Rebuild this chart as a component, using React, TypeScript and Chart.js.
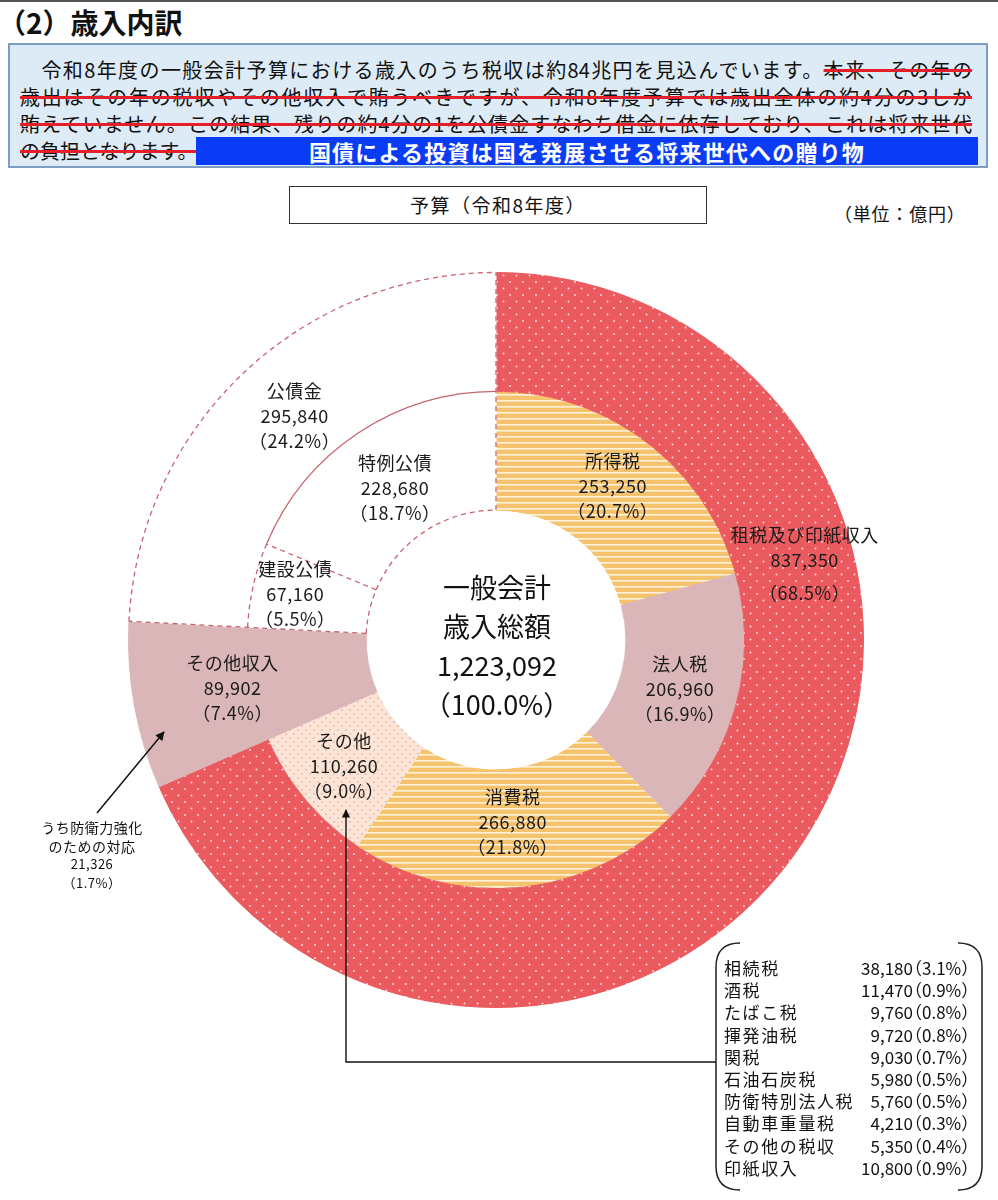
import React, { useEffect, useRef } from "react";
import { Chart, registerables } from "chart.js";

Chart.register(...registerables);

const FONT = "'Noto Sans CJK JP', 'Noto Sans', sans-serif";

// 歳入（単位：億円）
const outerLabels = ["租税及び印紙収入", "その他収入", "公債金"];
const outerValues = [837350, 89902, 295840];
const innerLabels = ["所得税", "法人税", "消費税", "その他", "その他収入", "建設公債", "特例公債"];
const innerValues = [253250, 206960, 266880, 110260, 89902, 67160, 228680];

// 「その他」の内訳
const detailNames = ["相続税", "酒税", "たばこ税", "揮発油税", "関税", "石油石炭税", "防衛特別法人税", "自動車重量税", "その他の税収", "印紙収入"];
const detailValues = [38180, 11470, 9760, 9720, 9030, 5980, 5760, 4210, 5350, 10800];

const defenseLines = ["うち防衛力強化", "のための対応"];
const defenseValue = 21326;
const centerLines = ["一般会計", "歳入総額"];

const total = outerValues.reduce((a, b) => a + b, 0);
const fmt = (v: number) => v.toLocaleString("en-US");
const pct = (v: number) => `（${(Math.round((v / total) * 1000) / 10).toFixed(1)}%）`;

// label placement inside each ring (fraction across the ring, optional angle in degrees from 12 o'clock)
type Pos = { f: number; angle?: number; extra?: number } | null;
const outerLabelPos: Pos[] = [{ f: 0.59, angle: 75.5, extra: 8 }, { f: 0.16 }, { f: 0.44, angle: 318 }];
const innerLabelPos: Pos[] = [{ f: 0.53 }, { f: 0.51 }, { f: 0.45 }, { f: 0.57 }, null, { f: 0.64 }, { f: 0.44 }];

const MAUVE = "#DAB6B8";
const EDGE = "#C8646F";

function makePattern(w: number, h: number, bg: string, draw: (g: CanvasRenderingContext2D) => void) {
  const c = document.createElement("canvas");
  c.width = w;
  c.height = h;
  const g = c.getContext("2d")!;
  g.fillStyle = bg;
  g.fillRect(0, 0, w, h);
  draw(g);
  return g.createPattern(c, "repeat")!;
}

const dot = (g: CanvasRenderingContext2D, x: number, y: number, r: number) => {
  g.beginPath();
  g.arc(x, y, r, 0, Math.PI * 2);
  g.fill();
};

function DonutChart() {
  const ref = useRef<HTMLCanvasElement | null>(null);

  useEffect(() => {
    if (!ref.current) return;

    const redDots = makePattern(13, 13, "#EA5A5E", (g) => {
      g.fillStyle = "rgba(255,228,228,0.95)";
      dot(g, 3, 3, 0.95);
      dot(g, 9.5, 9.5, 0.95);
    });
    const stripes = makePattern(6, 6, "#F5C26E", (g) => {
      g.fillStyle = "#FFF2DA";
      g.fillRect(0, 4, 6, 1.6);
    });
    const peachDots = makePattern(8, 8, "#FCE5D7", (g) => {
      g.fillStyle = "#C48E7C";
      dot(g, 2, 2, 0.65);
      dot(g, 6, 6, 0.65);
    });

    const outerBg: any[] = [redDots, MAUVE, "#FFFFFF"];
    const innerBg: any[] = [stripes, MAUVE, stripes, peachDots, MAUVE, "#FFFFFF", "#FFFFFF"];

    const props = (el: any) =>
      el.getProps(["x", "y", "startAngle", "endAngle", "innerRadius", "outerRadius"], true);

    const drawBlock = (ctx: CanvasRenderingContext2D, lines: string[], x: number, y: number, gap: number, extra = 0) => {
      lines.forEach((t, i) => {
        const off = (i - (lines.length - 1) / 2) * gap + (i === lines.length - 1 ? extra : 0);
        ctx.fillText(t, x, y + off);
      });
    };

    const decor = {
      id: "ringDecor",
      afterDatasetsDraw(chart: any) {
        const ctx: CanvasRenderingContext2D = chart.ctx;
        const outer = chart.getDatasetMeta(0).data;
        const inner = chart.getDatasetMeta(1).data;
        const bond = props(outer[2]);
        const ken = props(inner[5]);
        const toku = props(inner[6]);
        const { x, y } = bond;
        const radial = (a: number, r0: number, r1: number) => {
          ctx.beginPath();
          ctx.moveTo(x + Math.cos(a) * r0, y + Math.sin(a) * r0);
          ctx.lineTo(x + Math.cos(a) * r1, y + Math.sin(a) * r1);
          ctx.stroke();
        };

        // outlines of the borrowing sectors
        ctx.save();
        ctx.strokeStyle = EDGE;
        ctx.lineWidth = 1.3;
        ctx.setLineDash([5, 4]);
        ctx.beginPath();
        ctx.arc(x, y, bond.outerRadius, bond.startAngle, bond.endAngle);
        ctx.stroke();
        radial(bond.startAngle, ken.innerRadius, bond.outerRadius);
        radial(bond.endAngle, ken.innerRadius, bond.outerRadius);
        ctx.beginPath();
        ctx.arc(x, y, ken.innerRadius, ken.startAngle, toku.endAngle);
        ctx.stroke();
        ctx.beginPath();
        ctx.arc(x, y, ken.outerRadius, ken.startAngle, ken.endAngle);
        ctx.stroke();
        radial(ken.endAngle, ken.innerRadius, ken.outerRadius);
        ctx.setLineDash([]);
        ctx.beginPath();
        ctx.arc(x, y, toku.outerRadius, toku.startAngle, toku.endAngle);
        ctx.stroke();
        ctx.restore();

        // sector labels
        ctx.save();
        ctx.fillStyle = "#1A1A1A";
        ctx.textAlign = "center";
        ctx.textBaseline = "middle";
        ctx.font = `18px ${FONT}`;
        (ctx as any).letterSpacing = "0.5px";
        const place = (el: any, pos: Pos, label: string, value: number) => {
          if (!pos) return;
          const p = props(el);
          const mid = pos.angle != null ? ((pos.angle - 90) * Math.PI) / 180 : (p.startAngle + p.endAngle) / 2;
          const r = p.innerRadius + pos.f * (p.outerRadius - p.innerRadius);
          drawBlock(ctx, [label, fmt(value), pct(value)], p.x + Math.cos(mid) * r, p.y + Math.sin(mid) * r, 25, pos.extra || 0);
        };
        outer.forEach((el: any, i: number) => place(el, outerLabelPos[i], outerLabels[i], outerValues[i]));
        inner.forEach((el: any, i: number) => place(el, innerLabelPos[i], innerLabels[i], innerValues[i]));

        // centre total
        (ctx as any).letterSpacing = "0px";
        ctx.font = `27px ${FONT}`;
        ctx.fillStyle = "#111";
        drawBlock(ctx, [...centerLines, fmt(total), "（100.0%）"], x + 1, y + 6, 39);
        ctx.restore();
      },
    };

    const chart = new Chart(ref.current, {
      type: "doughnut",
      data: {
        labels: innerLabels,
        datasets: [
          { label: "歳入", data: outerValues, backgroundColor: outerBg, borderColor: outerBg, borderWidth: 1 },
          { label: "内訳", data: innerValues, backgroundColor: innerBg, borderColor: innerBg, borderWidth: 1 },
        ],
      },
      options: {
        responsive: true,
        maintainAspectRatio: false,
        animation: false,
        events: [],
        cutout: "35.35%",
        layout: { padding: { left: 128, right: 134, top: 32, bottom: 192 } },
        plugins: { legend: { display: false }, tooltip: { enabled: false } },
        elements: { arc: { hoverOffset: 0, offset: 0 } as any },
      },
      plugins: [decor as any],
    });
    return () => chart.destroy();
  }, []);

  return <canvas ref={ref} />;
}

const abs = (s: React.CSSProperties): React.CSSProperties => ({ position: "absolute", ...s });
const strike: React.CSSProperties = {
  textDecorationLine: "line-through",
  textDecorationColor: "#E61E2A",
  textDecorationThickness: "3px",
};
const lineStyle = (top: number, justify: boolean): React.CSSProperties =>
  abs({
    left: 20,
    top,
    width: 952,
    height: 27,
    lineHeight: "27px",
    whiteSpace: "pre",
    textAlign: justify ? "justify" : "left",
    textAlignLast: justify ? "justify" : "auto",
  } as React.CSSProperties);

export default function App() {
  return (
    <div
      style={abs({
        left: 0,
        top: 0,
        width: 998,
        height: 1200,
        overflow: "hidden",
        background: "#fff",
        fontFamily: FONT,
        color: "#111",
      })}
    >
      <div style={abs({ left: 0, top: 0, width: 998, height: 2, background: "#555" })} />
      <div style={abs({ left: -2, top: 2, fontSize: 28, fontWeight: 700, lineHeight: "40px" })}>（2）歳入内訳</div>

      <div
        style={abs({
          left: 8,
          top: 43,
          width: 976,
          height: 121,
          background: "#DDEBF7",
          border: "2px solid #7F9CC4",
        })}
      />
      <div style={abs({ left: 0, top: 0, fontSize: 20 })}>
        <div style={lineStyle(56, true)}>
          {"\u3000令和8年度の一般会計予算における歳入のうち税収は約84兆円を見込んでいます。"}
          <span style={strike}>本来、その年の</span>
        </div>
        <div style={lineStyle(83, true)}>
          <span style={strike}>歳出はその年の税収やその他収入で賄うべきですが、令和8年度予算では歳出全体の約4分の3しか</span>
        </div>
        <div style={lineStyle(110, true)}>
          <span style={strike}>賄えていません。この結果、残りの約4分の1を公債金すなわち借金に依存しており、これは将来世代</span>
        </div>
        <div style={lineStyle(137, false)}>
          <span style={strike}>の負担となります。</span>
        </div>
      </div>
      <div
        style={abs({
          left: 196,
          top: 137,
          width: 782,
          height: 28,
          background: "#0A3CF5",
          color: "#fff",
          fontWeight: 700,
          fontSize: 22,
          letterSpacing: 1.2,
          lineHeight: "28px",
          textAlign: "center",
        })}
      >
        国債による投資は国を発展させる将来世代への贈り物
      </div>

      <div
        style={abs({
          left: 289,
          top: 186,
          width: 416,
          height: 36,
          border: "1.5px solid #333",
          fontSize: 19,
          lineHeight: "36px",
          textAlign: "center",
          letterSpacing: 1.5,
        })}
      >
        予算（令和8年度）
      </div>
      <div style={abs({ left: 834, top: 200, fontSize: 18, lineHeight: "26px", letterSpacing: 0.8 })}>（単位：億円）</div>

      <div style={abs({ left: 0, top: 240, width: 998, height: 960 })}>
        <DonutChart />
      </div>

      <div
        style={abs({
          left: 92,
          top: 818,
          transform: "translateX(-50%)",
          textAlign: "center",
          whiteSpace: "nowrap",
          lineHeight: "18.5px",
          fontSize: 14,
          letterSpacing: 0.5,
        })}
      >
        {defenseLines.map((t) => (
          <div key={t}>{t}</div>
        ))}
        <div style={{ fontSize: 13 }}>{fmt(defenseValue)}</div>
        <div style={{ fontSize: 13 }}>{pct(defenseValue)}</div>
      </div>

      {detailNames.map((name, i) => (
        <div key={name} style={abs({ left: 724, top: 957 + i * 22.2, height: 22.2, lineHeight: "22.2px", fontSize: 17, whiteSpace: "nowrap", width: 270 })}>
          <span style={abs({ left: 0, top: 0, letterSpacing: 1.6 })}>{name}</span>
          <span style={abs({ right: 270 - (913 - 724), top: 0 })}>{fmt(detailValues[i])}</span>
          <span style={abs({ left: 905 - 724, top: 0 })}>{pct(detailValues[i])}</span>
        </div>
      ))}

      <svg width={998} height={1200} style={abs({ left: 0, top: 0, pointerEvents: "none" })}>
        <defs>
          <marker id="ah" viewBox="0 0 10 10" refX="9" refY="5" markerWidth="7" markerHeight="6" orient="auto-start-reverse">
            <path d="M0,0 L10,5 L0,10 z" fill="#111" />
          </marker>
        </defs>
        <line x1={97} y1={813} x2={164} y2={732} stroke="#111" strokeWidth={1.5} markerEnd="url(#ah)" />
        <polyline points="716,1062 346,1062 346,810" fill="none" stroke="#111" strokeWidth={1.4} markerEnd="url(#ah)" />
        <path d="M740 943 Q716 943 716 967 L716 1166 Q716 1190 740 1190" fill="none" stroke="#222" strokeWidth={1.5} />
        <path d="M958 943 Q982 943 982 967 L982 1166 Q982 1190 958 1190" fill="none" stroke="#222" strokeWidth={1.5} />
      </svg>
    </div>
  );
}
